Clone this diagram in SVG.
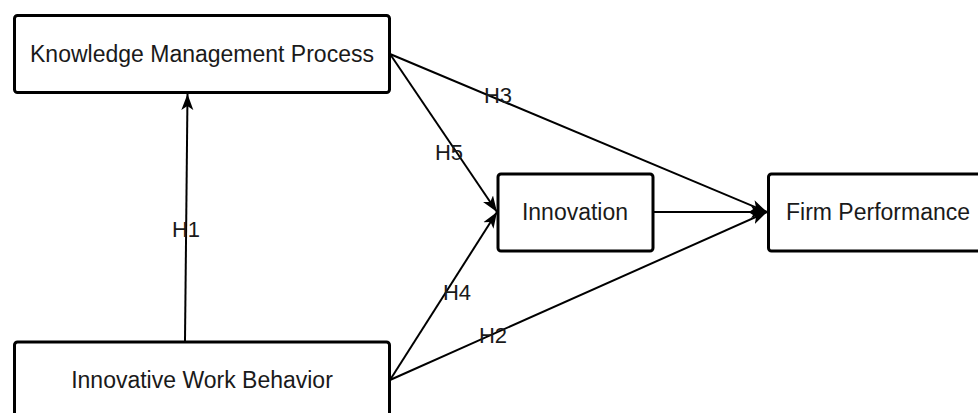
<svg xmlns="http://www.w3.org/2000/svg" width="978" height="413" viewBox="0 0 978 413">
<defs>
<marker id="arr" markerUnits="userSpaceOnUse" markerWidth="18" markerHeight="14" refX="16" refY="7" orient="auto">
<path d="M0,1 L16,7 L0,13 L4,7 Z" fill="#000"/>
</marker>
<style>
.box{fill:#fff;stroke:#000;stroke-width:3}
.t{font-family:"Liberation Sans",Arial,sans-serif;font-size:23px;fill:#1a1a1a;text-anchor:middle}
.l{font-family:"Liberation Sans",Arial,sans-serif;font-size:22px;fill:#1a1a1a;text-anchor:middle}
.c{stroke:#000;stroke-width:2;fill:none;marker-end:url(#arr)}
</style>
</defs>
<rect width="978" height="413" fill="#fff"/>
<g id="connectors">
<line class="c" x1="185" y1="341" x2="187.5" y2="94"/>
<line class="c" x1="390" y1="54" x2="767" y2="212"/>
<line class="c" x1="390" y1="54" x2="497" y2="212"/>
<line class="c" x1="390" y1="380" x2="497" y2="212"/>
<line class="c" x1="390" y1="380" x2="767" y2="212"/>
<line class="c" x1="653" y1="212" x2="767" y2="212"/>
<text class="l" x="186" y="236.5">H1</text>
<text class="l" x="498" y="102.5">H3</text>
<text class="l" x="449" y="160">H5</text>
<text class="l" x="457" y="300">H4</text>
<text class="l" x="493" y="342.5">H2</text>
</g>
<g id="kmp">
<rect class="box" x="14.5" y="15.5" width="375" height="77" rx="3"/>
<text class="t" x="202" y="62">Knowledge Management Process</text>
</g>
<g id="iwb">
<rect class="box" x="14.5" y="342" width="375" height="77" rx="3"/>
<text class="t" x="202" y="388">Innovative Work Behavior</text>
</g>
<g id="innovation">
<rect class="box" x="498" y="174" width="155" height="77" rx="3"/>
<text class="t" x="575" y="220">Innovation</text>
</g>
<g id="fp">
<rect class="box" x="768.5" y="174" width="220" height="77" rx="3"/>
<text class="t" x="878" y="220">Firm Performance</text>
</g>
</svg>
